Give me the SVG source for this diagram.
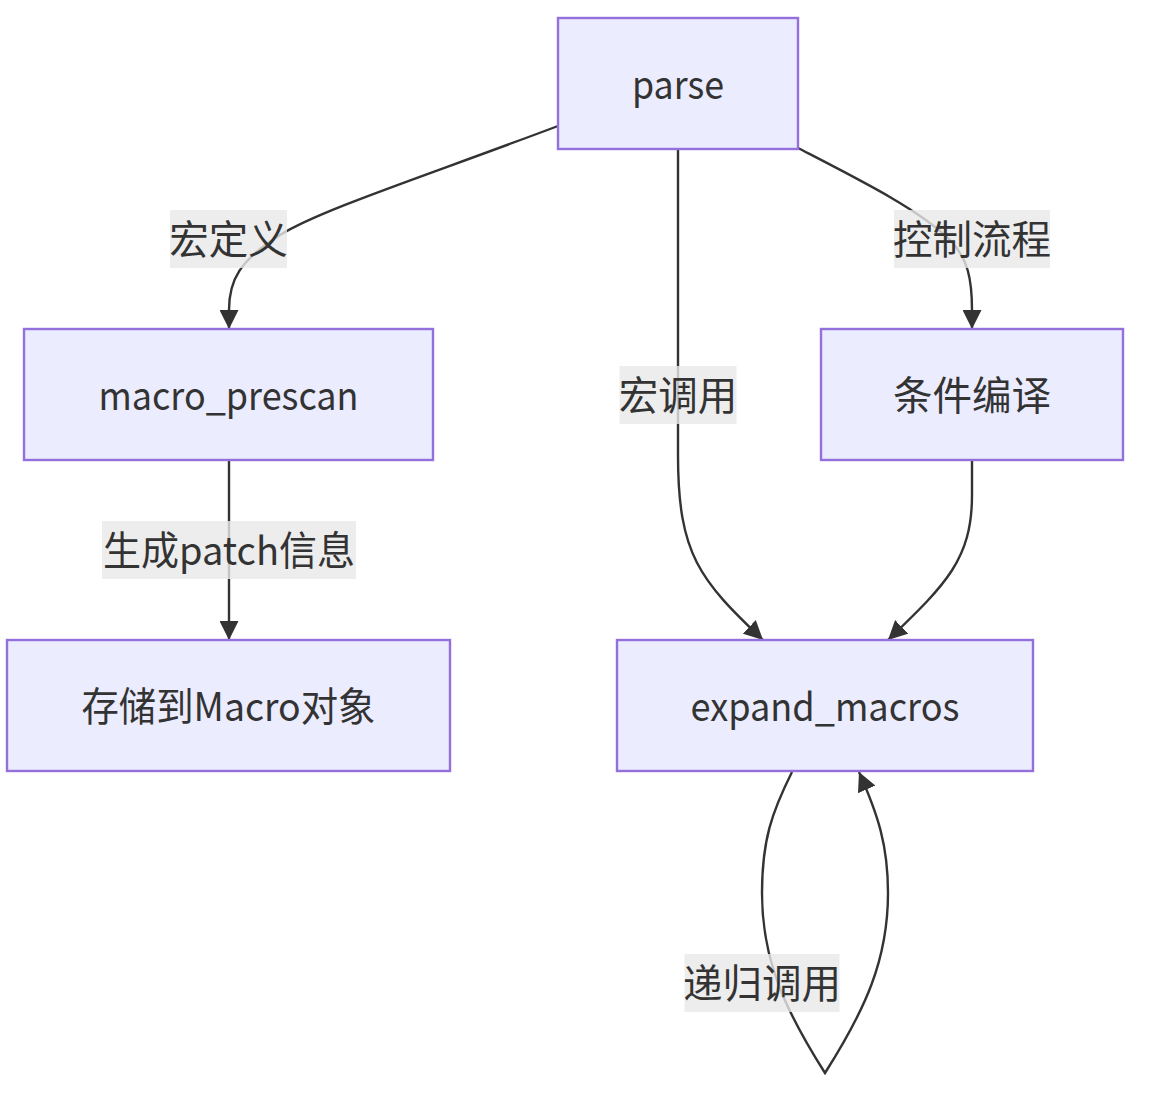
<svg xmlns="http://www.w3.org/2000/svg" width="1162" height="1102" viewBox="0 0 1162 1102">
<defs>
<style>
.node rect{fill:#ECECFF;stroke:#9370DB;stroke-width:2.4}
.node text,.label text{font-family:"Noto Sans CJK SC","Noto Sans",sans-serif;font-size:39.5px;fill:#333;text-anchor:middle}
.edge{fill:none;stroke:#333;stroke-width:2.4}
.label rect{fill:#e8e8e8;opacity:0.8}
</style>
<marker id="arrow" viewBox="0 0 10 10" refX="10" refY="5" markerUnits="userSpaceOnUse" markerWidth="19" markerHeight="19" orient="auto">
<path d="M0,0 L10,5 L0,10 z" fill="#333"/>
</marker>
</defs>
<rect width="1162" height="1102" fill="#fff"/>
<g id="connectors">
<path class="edge" d="M558,126 C420,178 320,210 280,235 C240,260 229,280 229,310 L229,329" marker-end="url(#arrow)"/>
<path class="edge" d="M678,149 L678,455 C678,555 700,580 763,640" marker-end="url(#arrow)"/>
<path class="edge" d="M798,148 C860,180 920,210 950,240 C968,258 972,280 972,310 L972,329" marker-end="url(#arrow)"/>
<path class="edge" d="M972,461 L972,495 C972,560 945,585 888,640" marker-end="url(#arrow)"/>
<path class="edge" d="M229,461 L229,640" marker-end="url(#arrow)"/>
<path class="edge" d="M792,772 C772,812 762,840 762,893 C762,960 785,1010 825,1073 C865,1010 888,960 888,893 C888,845 878,815 859,772" marker-end="url(#arrow)"/>
</g>
<g id="edge-labels">
<g class="label"><rect x="170" y="210" width="117" height="58"/><text x="228.5" y="254">宏定义</text></g>
<g class="label"><rect x="894" y="210" width="156" height="58"/><text x="972" y="254">控制流程</text></g>
<g class="label"><rect x="619.5" y="366" width="117" height="58"/><text x="678" y="410">宏调用</text></g>
<g class="label"><rect x="102" y="521" width="254" height="58"/><text x="229" y="565" textLength="252" lengthAdjust="spacingAndGlyphs">生成patch信息</text></g>
<g class="label"><rect x="684.5" y="954" width="155" height="58"/><text x="762" y="998">递归调用</text></g>
</g>
<g id="node-parse" class="node"><rect x="558" y="18" width="240" height="131"/><text x="678" y="98.5" textLength="92" lengthAdjust="spacingAndGlyphs">parse</text></g>
<g id="node-macro_prescan" class="node"><rect x="24" y="329" width="409" height="131"/><text x="228.5" y="409.5" textLength="260" lengthAdjust="spacingAndGlyphs">macro_prescan</text></g>
<g id="node-cond" class="node"><rect x="821" y="329" width="302" height="131"/><text x="972" y="409.5">条件编译</text></g>
<g id="node-store" class="node"><rect x="7" y="640" width="443" height="131"/><text x="228.5" y="720.5" textLength="294" lengthAdjust="spacingAndGlyphs">存储到Macro对象</text></g>
<g id="node-expand" class="node"><rect x="617" y="640" width="416" height="131"/><text x="825" y="720.5" textLength="269" lengthAdjust="spacingAndGlyphs">expand_macros</text></g>
</svg>
